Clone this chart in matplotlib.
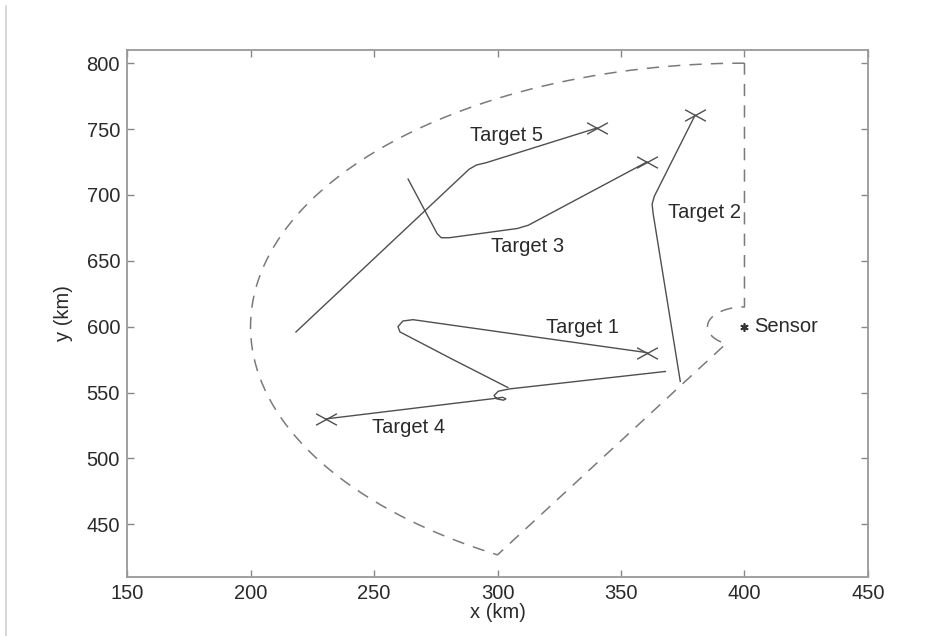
import numpy as np
import matplotlib.pyplot as plt
from matplotlib.path import Path
from matplotlib.lines import Line2D

plt.rcParams['font.family'] = ['Liberation Sans', 'DejaVu Sans']

# sensor and surveillance region
sensor = (400, 600)
r_outer = 200
r_inner = 15
ang_start = 90
ang_end = 240

# target tracks (x, y in km)
t1_x = [304.2, 282.0, 260.5, 259.7, 261.7, 265.8, 313.0, 360.5]
t1_y = [553.8, 575.0, 596.0, 600.0, 604.3, 605.3, 592.8, 580.3]

t2_x = [380.0, 363.5, 362.6, 363.0, 374.0]
t2_y = [760.5, 699.0, 693.0, 686.0, 558.5]

t3_x = [263.8, 275.6, 277.2, 280.5, 308.0, 312.5, 360.5]
t3_y = [712.0, 670.5, 667.5, 667.5, 674.5, 677.0, 725.0]

t4_x = [368.0, 305.1, 300.3, 298.6, 299.7, 302.4, 303.4, 302.1, 299.7, 230.6]
t4_y = [566.0, 552.8, 551.0, 547.7, 545.2, 544.2, 545.2, 546.4, 545.7, 530.0]

t5_x = [218.4, 288.5, 291.5, 295.5, 340.3]
t5_y = [596.0, 719.5, 722.7, 724.5, 750.8]

# positions marked with a cross (current target positions)
end_x = [360.5, 380.0, 360.5, 230.6, 340.3]
end_y = [580.3, 760.5, 725.0, 530.0, 750.8]

labels = ['Target 1', 'Target 2', 'Target 3', 'Target 4', 'Target 5']
label_x = [334.5, 384.0, 312.0, 264.0, 303.5]
label_y = [599.5, 687.0, 661.0, 523.5, 745.0]

line_col = '#4f4f4f'
dash_col = '#7a7a7a'
text_col = '#2a2a2a'
fs = 14.5

fig = plt.figure(figsize=(9.3, 6.36), dpi=100)
ax = fig.add_axes([0.1366, 0.0928, 0.7967, 0.8286])

# region boundary: outer arc, ray back to the sensor, small inner arc, vertical edge
th_out = np.radians(np.linspace(ang_start, ang_end, 200))
th_in = np.radians(np.linspace(ang_end, ang_start, 60))
bx = np.concatenate([sensor[0] + r_outer * np.cos(th_out),
                     sensor[0] + r_inner * np.cos(th_in),
                     [sensor[0]]])
by = np.concatenate([sensor[1] + r_outer * np.sin(th_out),
                     sensor[1] + r_inner * np.sin(th_in),
                     [sensor[1] + r_outer]])
ax.plot(bx, by, linestyle=(0, (8, 6)), color=dash_col, lw=1.1)

for tx, ty in [(t1_x, t1_y), (t2_x, t2_y), (t3_x, t3_y), (t4_x, t4_y), (t5_x, t5_y)]:
    ax.plot(tx, ty, color=line_col, lw=1.0)

cross = Path([(-1, -0.55), (1, 0.55), (-1, 0.55), (1, -0.55)],
             [Path.MOVETO, Path.LINETO, Path.MOVETO, Path.LINETO])
ax.plot(end_x, end_y, linestyle='none', marker=cross, markersize=15,
        markeredgecolor=line_col, markeredgewidth=1.0)

for name, lx, ly in zip(labels, label_x, label_y):
    ax.text(lx, ly, name, ha='center', va='center', fontsize=fs, color=text_col)

# sensor drawn as an asterisk
ax.plot([sensor[0]], [sensor[1]], marker=(6, 2, 0), markersize=6,
        markeredgecolor='#333333', markeredgewidth=1.2, linestyle='none')
ax.text(sensor[0] + 4.0, sensor[1], 'Sensor', ha='left', va='center',
        fontsize=fs, color=text_col)

ax.set_xlim(150, 450)
ax.set_ylim(410, 810)
ax.set_xticks(np.arange(150, 451, 50))
ax.set_yticks(np.arange(450, 801, 50))
ax.tick_params(direction='in', length=5, width=1, color='#888888',
               top=True, right=True, labelsize=fs, labelcolor=text_col, pad=5)
for s in ax.spines.values():
    s.set_color('#999999')
    s.set_linewidth(1.3)
ax.set_xlabel('x (km)', fontsize=fs, color=text_col, labelpad=0)
ax.set_ylabel('y (km)', fontsize=fs, color=text_col, labelpad=10)

# faint page edge on the left
fig.add_artist(Line2D([0.006, 0.006], [0.0, 0.99], color='#d0d0d0', lw=1.2))

fig.savefig('out.png', dpi=100)
